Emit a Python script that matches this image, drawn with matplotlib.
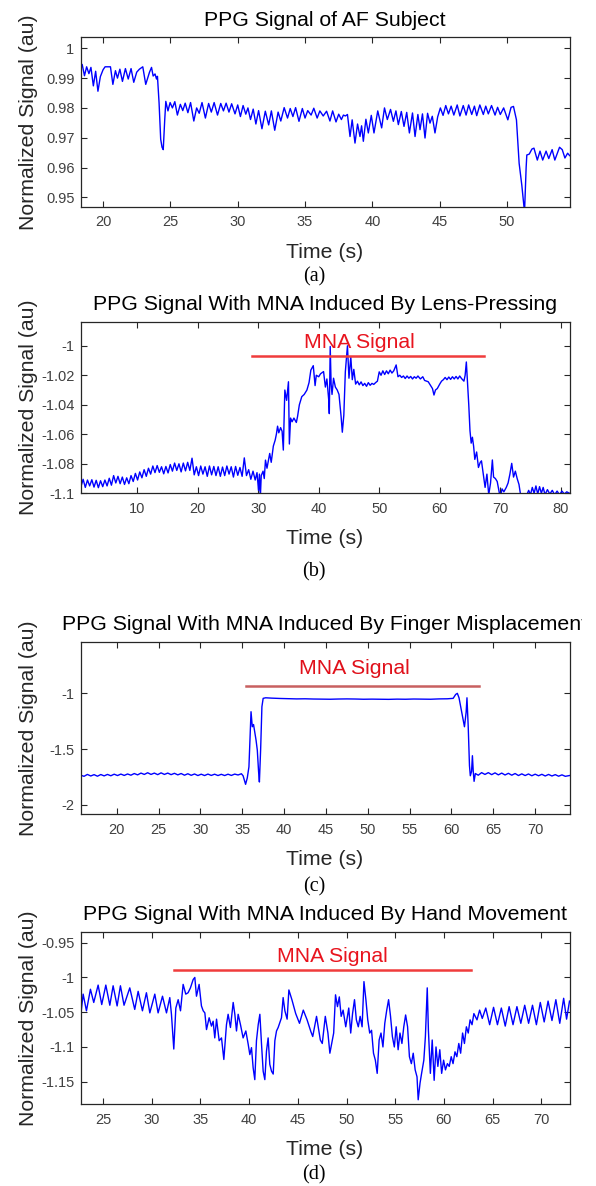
import matplotlib
matplotlib.use('Agg')
import matplotlib.pyplot as plt
from matplotlib.transforms import Bbox

plt.rcParams['font.family'] = ['Liberation Sans', 'DejaVu Sans']

# ---- (a) PPG signal of AF subject ----
a_t = [18.34, 18.45, 18.62, 18.78, 18.95, 19.10, 19.28, 19.45, 19.62, 19.80,
       20.00, 20.15, 20.55, 20.73, 20.92, 21.07, 21.25, 21.44, 21.66, 21.87,
       22.08, 22.28, 22.50, 22.70, 22.95, 23.17, 23.45, 23.60, 23.72, 23.86,
       23.97, 24.04, 24.16, 24.28, 24.38, 24.47, 24.58, 24.66, 24.82, 24.98,
       25.15, 25.33, 25.52, 25.74, 25.92, 26.10, 26.30, 26.50, 26.74, 26.95,
       27.14, 27.35, 27.60, 27.84, 28.04, 28.25, 28.50, 28.74, 28.94, 29.14,
       29.35, 29.55, 29.80, 30.00, 30.20, 30.40, 30.60, 30.76, 30.95, 31.15,
       31.35, 31.55, 31.80, 32.05, 32.30, 32.50, 32.75, 33.00, 33.20, 33.45,
       33.70, 33.90, 34.10, 34.30, 34.55, 34.80, 35.00, 35.20, 35.45, 35.65,
       35.90, 36.10, 36.35, 36.60, 36.85, 37.05, 37.30, 37.50, 37.70, 37.85,
       38.00, 38.15, 38.34, 38.50, 38.71, 38.90, 39.08, 39.20, 39.33, 39.52,
       39.70, 39.92, 40.12, 40.40, 40.69, 40.90, 41.11, 41.35, 41.56, 41.75,
       41.93, 42.15, 42.35, 42.55, 42.75, 42.98, 43.17, 43.38, 43.54, 43.72,
       43.91, 44.10, 44.28, 44.45, 44.65, 44.85, 45.05, 45.25, 45.45, 45.65,
       45.85, 46.05, 46.30, 46.50, 46.75, 46.96, 47.15, 47.38, 47.58, 47.75,
       47.98, 48.24, 48.42, 48.61, 48.85, 49.11, 49.30, 49.50, 49.75, 50.06,
       50.30, 50.48, 50.70, 50.90, 51.10, 51.30, 51.42, 51.47, 51.65, 51.85,
       52.00, 52.25, 52.45, 52.65, 52.90, 53.10, 53.35, 53.55, 53.90, 54.10,
       54.30, 54.50, 54.65]
a_v = [0.9932, 0.9946, 0.9908, 0.9938, 0.9915, 0.9936, 0.9874, 0.9923, 0.9856, 0.9905,
       0.9928, 0.9938, 0.9938, 0.9879, 0.9925, 0.9900, 0.9930, 0.9889, 0.9932, 0.9897,
       0.9932, 0.9886, 0.9920, 0.9930, 0.9938, 0.9879, 0.9920, 0.9936, 0.9907, 0.9914,
       0.9897, 0.9906, 0.9817, 0.9695, 0.9668, 0.9660, 0.9760, 0.9822, 0.9790, 0.9818,
       0.9800, 0.9821, 0.9776, 0.9812, 0.9791, 0.9816, 0.9784, 0.9818, 0.9756, 0.9800,
       0.9782, 0.9818, 0.9766, 0.9815, 0.9786, 0.9818, 0.9776, 0.9815, 0.9790, 0.9816,
       0.9786, 0.9814, 0.9780, 0.9810, 0.9771, 0.9808, 0.9779, 0.9800, 0.9761, 0.9796,
       0.9746, 0.9791, 0.9730, 0.9789, 0.9743, 0.9790, 0.9725, 0.9786, 0.9756, 0.9801,
       0.9766, 0.9798, 0.9771, 0.9801, 0.9755, 0.9798, 0.9766, 0.9791, 0.9776, 0.9799,
       0.9766, 0.9790, 0.9773, 0.9789, 0.9756, 0.9790, 0.9753, 0.9779, 0.9761, 0.9776,
       0.9773, 0.9778, 0.9704, 0.9760, 0.9682, 0.9746, 0.9704, 0.9740, 0.9688, 0.9762,
       0.9716, 0.9775, 0.9716, 0.9790, 0.9733, 0.9800, 0.9761, 0.9795, 0.9755, 0.9790,
       0.9744, 0.9788, 0.9738, 0.9785, 0.9716, 0.9783, 0.9704, 0.9778, 0.9727, 0.9780,
       0.9699, 0.9782, 0.9749, 0.9772, 0.9716, 0.9770, 0.9800, 0.9775, 0.9808, 0.9780,
       0.9806, 0.9776, 0.9810, 0.9773, 0.9808, 0.9776, 0.9810, 0.9778, 0.9806, 0.9774,
       0.9810, 0.9778, 0.9806, 0.9780, 0.9808, 0.9776, 0.9802, 0.9778, 0.9800, 0.9760,
       0.9802, 0.9805, 0.9760, 0.9614, 0.9540, 0.9450, 0.9600, 0.9642, 0.9645, 0.9662,
       0.9665, 0.9625, 0.9655, 0.9625, 0.9655, 0.9630, 0.9660, 0.9625, 0.9668, 0.9660,
       0.9632, 0.9648, 0.9640]

# ---- (b) MNA induced by lens-pressing ----
b_t = [0.70, 1.06, 1.42, 1.78, 2.14, 2.50, 2.86, 3.22, 3.58, 3.94,
       4.30, 4.66, 5.02, 5.38, 5.74, 6.10, 6.46, 6.82, 7.18, 7.54,
       7.90, 8.26, 8.62, 8.98, 9.34, 9.70, 10.06, 10.42, 10.78, 11.14,
       11.50, 11.86, 12.22, 12.58, 12.94, 13.30, 13.66, 14.02, 14.38, 14.74,
       15.10, 15.46, 15.82, 16.18, 16.54, 16.90, 17.26, 17.62, 17.98, 18.34,
       18.70, 19.06, 19.42, 19.78, 20.14, 20.50, 20.86, 21.22, 21.58, 21.94,
       22.30, 22.66, 23.02, 23.38, 23.74, 24.10, 24.46, 24.82, 25.18, 25.54,
       25.90, 26.26, 26.62, 26.98, 27.34, 27.70, 28.06, 28.42, 28.78, 29.14,
       29.50, 29.80, 30.05, 30.20, 30.35, 30.50, 30.80, 31.00, 31.20, 31.45,
       31.90, 32.15, 32.50, 32.80, 33.00, 33.20, 33.40, 33.70, 33.95, 34.15,
       34.40, 34.70, 35.00, 35.15, 35.35, 35.60, 35.90, 36.30, 36.50, 36.80,
       37.20, 37.60, 38.05, 38.40, 38.70, 39.10, 39.40, 39.60, 40.00, 40.30,
       40.80, 41.10, 41.35, 41.65, 41.75, 41.90, 42.05, 42.20, 42.45, 42.75,
       43.06, 43.35, 43.70, 43.90, 44.15, 44.40, 44.75, 45.00, 45.30, 45.55,
       45.80, 46.10, 46.40, 46.70, 47.00, 47.30, 47.60, 47.90, 48.20, 48.50,
       48.80, 49.10, 49.40, 49.70, 50.00, 50.30, 50.60, 50.90, 51.20, 51.50,
       51.80, 52.10, 52.40, 52.80, 53.10, 53.40, 53.70, 54.00, 54.30, 54.60,
       54.90, 55.20, 55.50, 55.80, 56.10, 56.40, 56.80, 57.20, 57.50, 58.10,
       58.50, 58.80, 59.05, 59.30, 59.60, 60.00, 60.30, 60.60, 60.90, 61.20,
       61.50, 61.80, 62.10, 62.40, 62.70, 63.00, 63.30, 63.60, 64.00, 64.20,
       64.40, 64.60, 64.80, 65.00, 65.20, 65.40, 65.60, 65.80, 66.10, 66.40,
       66.70, 66.90, 67.20, 67.50, 67.80, 68.10, 68.40, 68.70, 68.90, 69.20,
       69.50, 70.00, 70.30, 70.60, 71.00, 71.30, 71.60, 71.90, 72.20, 72.50,
       72.80, 73.10, 73.40, 73.70, 74.00, 74.40, 74.70, 75.00, 75.30, 75.60,
       75.90, 76.20, 76.50, 76.80, 77.10, 77.40, 77.80, 78.20, 78.60, 79.00,
       79.40, 79.80, 80.20, 80.60, 81.00, 81.45]
b_v = [-1.0955, -1.0905, -1.0960, -1.0910, -1.0950, -1.0908, -1.0958, -1.0912, -1.0962, -1.0915,
       -1.0955, -1.0910, -1.0950, -1.0898, -1.0945, -1.0880, -1.0930, -1.0885, -1.0935, -1.0890,
       -1.0940, -1.0895, -1.0935, -1.0880, -1.0920, -1.0865, -1.0910, -1.0855, -1.0895, -1.0840,
       -1.0885, -1.0830, -1.0870, -1.0815, -1.0860, -1.0812, -1.0858, -1.0820, -1.0868, -1.0818,
       -1.0862, -1.0805, -1.0850, -1.0795, -1.0845, -1.0800, -1.0855, -1.0795, -1.0848, -1.0790,
       -1.0845, -1.0762, -1.0875, -1.0820, -1.0880, -1.0815, -1.0870, -1.0820, -1.0885, -1.0815,
       -1.0875, -1.0818, -1.0880, -1.0820, -1.0885, -1.0822, -1.0880, -1.0815, -1.0870, -1.0820,
       -1.0890, -1.0818, -1.0878, -1.0825, -1.0885, -1.0760, -1.0880, -1.0840, -1.0905, -1.0850,
       -1.0910, -1.0860, -1.0980, -1.0870, -1.1030, -1.0880, -1.0850, -1.0900, -1.0775, -1.0830,
       -1.0730, -1.0790, -1.0680, -1.0640, -1.0600, -1.0545, -1.0590, -1.0555, -1.0580, -1.0707,
       -1.0300, -1.0370, -1.0244, -1.0666, -1.0490, -1.0515, -1.0490, -1.0520, -1.0480, -1.0400,
       -1.0345, -1.0330, -1.0300, -1.0250, -1.0165, -1.0135, -1.0270, -1.0200, -1.0210, -1.0190,
       -1.0175, -1.0280, -1.0225, -1.0365, -1.0460, -1.0005, -1.0260, -1.0330, -1.0220, -1.0280,
       -1.0300, -1.0330, -1.0480, -1.0586, -1.0470, -1.0176, -1.0000, -1.0220, -1.0075, -1.0230,
       -1.0160, -1.0260, -1.0240, -1.0265, -1.0245, -1.0270, -1.0255, -1.0275, -1.0250, -1.0268,
       -1.0255, -1.0262, -1.0250, -1.0240, -1.0177, -1.0200, -1.0170, -1.0195, -1.0170, -1.0190,
       -1.0165, -1.0185, -1.0170, -1.0130, -1.0210, -1.0200, -1.0215, -1.0205, -1.0222, -1.0205,
       -1.0220, -1.0208, -1.0225, -1.0210, -1.0220, -1.0205, -1.0225, -1.0210, -1.0235, -1.0244,
       -1.0270, -1.0290, -1.0334, -1.0300, -1.0290, -1.0260, -1.0240, -1.0230, -1.0215, -1.0230,
       -1.0212, -1.0228, -1.0210, -1.0225, -1.0208, -1.0225, -1.0205, -1.0222, -1.0240, -1.0200,
       -1.0110, -1.0250, -1.0400, -1.0575, -1.0660, -1.0620, -1.0680, -1.0770, -1.0720, -1.0825,
       -1.0790, -1.0780, -1.0870, -1.0960, -1.0870, -1.1010, -1.0930, -1.0774, -1.0890, -1.0900,
       -1.0920, -1.1030, -1.0970, -1.0990, -1.0960, -1.0930, -1.0870, -1.0797, -1.0890, -1.0850,
       -1.0900, -1.0940, -1.1020, -1.1010, -1.1030, -1.1010, -1.0980, -1.1010, -1.0960, -1.1000,
       -1.0950, -1.1005, -1.0955, -1.1000, -1.0960, -1.1010, -1.0975, -1.1005, -1.0980, -1.1010,
       -1.0985, -1.1010, -1.0985, -1.1005, -1.0990, -1.1000]

# ---- (c) MNA induced by finger misplacement ----
c_t = [15.7, 16.1, 16.5, 16.9, 17.3, 17.7, 18.1, 18.5, 18.9, 19.3,
       19.7, 20.1, 20.5, 20.9, 21.3, 21.7, 22.1, 22.5, 22.9, 23.3,
       23.7, 24.1, 24.5, 24.9, 25.3, 25.7, 26.1, 26.5, 26.9, 27.3,
       27.7, 28.1, 28.5, 28.9, 29.3, 29.7, 30.1, 30.5, 30.9, 31.3,
       31.7, 32.1, 32.5, 32.9, 33.3, 33.7, 34.1, 34.5, 34.9, 35.1,
       35.3, 35.4, 35.6, 35.8, 35.95, 36.05, 36.2, 36.35, 36.5, 36.65,
       36.8, 36.95, 37.05, 37.2, 37.35, 37.5, 37.8, 38.5, 39.5, 40.5,
       41.5, 42.5, 43.5, 44.5, 45.5, 46.5, 47.5, 48.5, 49.5, 50.5,
       51.5, 52.5, 53.5, 54.5, 55.5, 56.5, 57.5, 58.5, 59.5, 60.2,
       60.5, 60.7, 60.9, 61.1, 61.3, 61.55, 61.75, 61.85, 62.0, 62.15,
       62.25, 62.4, 62.5, 62.6, 62.7, 62.85, 63.2, 63.6, 64.0, 64.4,
       64.8, 65.2, 65.6, 66.0, 66.4, 66.8, 67.2, 67.6, 68.0, 68.4,
       68.8, 69.2, 69.6, 70.0, 70.4, 70.8, 71.2, 71.6, 72.0, 72.4,
       72.8, 73.2, 73.6, 74.1]
c_v = [-1.735, -1.745, -1.728, -1.742, -1.730, -1.744, -1.729, -1.741, -1.728, -1.740,
       -1.726, -1.738, -1.725, -1.737, -1.724, -1.735, -1.720, -1.732, -1.716, -1.728,
       -1.713, -1.728, -1.716, -1.730, -1.714, -1.728, -1.716, -1.730, -1.718, -1.732,
       -1.720, -1.735, -1.722, -1.736, -1.724, -1.738, -1.726, -1.738, -1.725, -1.737,
       -1.726, -1.738, -1.727, -1.738, -1.726, -1.737, -1.725, -1.733, -1.722, -1.740,
       -1.790, -1.817, -1.760, -1.660, -1.350, -1.165, -1.300, -1.280, -1.350, -1.420,
       -1.510, -1.700, -1.796, -1.500, -1.120, -1.045, -1.040, -1.043, -1.046, -1.048,
       -1.050, -1.049, -1.051, -1.052, -1.053, -1.051, -1.050, -1.051, -1.053, -1.052,
       -1.053, -1.054, -1.052, -1.053, -1.051, -1.052, -1.053, -1.050, -1.049, -1.045,
       -1.010, -1.000, -1.040, -1.120, -1.200, -1.300, -1.170, -1.040, -1.300, -1.650,
       -1.740, -1.700, -1.560, -1.700, -1.790, -1.720, -1.735, -1.712, -1.728, -1.712,
       -1.730, -1.714, -1.732, -1.716, -1.733, -1.718, -1.735, -1.720, -1.738, -1.723,
       -1.738, -1.724, -1.740, -1.726, -1.740, -1.727, -1.742, -1.728, -1.742, -1.730,
       -1.744, -1.732, -1.745, -1.738]

# ---- (d) MNA induced by hand movement ----
d_t = [22.70, 22.95, 23.29, 23.70, 24.04, 24.49, 24.86, 25.28, 25.69, 26.03,
       26.44, 26.78, 27.15, 27.74, 28.25, 28.60, 29.04, 29.45, 29.80, 30.31,
       30.65, 31.10, 31.51, 31.85, 32.02, 32.26, 32.47, 32.71, 32.95, 33.22,
       33.49, 33.73, 33.97, 34.25, 34.42, 34.59, 34.86, 35.10, 35.28, 35.45,
       35.62, 35.89, 36.13, 36.30, 36.47, 36.65, 36.92, 37.16, 37.40, 37.67,
       37.84, 38.08, 38.36, 38.53, 38.70, 38.87, 39.11, 39.38, 39.66, 39.90,
       40.07, 40.24, 40.41, 40.58, 40.75, 40.93, 41.10, 41.27, 41.44, 41.61,
       41.78, 41.95, 42.12, 42.30, 42.47, 42.64, 42.81, 42.98, 43.15, 43.32,
       43.49, 43.67, 43.90, 44.08, 44.39, 44.78, 45.17, 45.56, 45.95, 46.34,
       46.53, 46.92, 47.31, 47.51, 47.82, 48.09, 48.29, 48.68, 48.87, 49.07,
       49.26, 49.45, 49.65, 49.92, 50.23, 50.43, 50.62, 50.82, 51.01, 51.21,
       51.40, 51.60, 51.79, 51.99, 52.18, 52.38, 52.57, 52.77, 52.96, 53.15,
       53.35, 53.54, 53.74, 53.93, 54.13, 54.32, 54.52, 54.71, 54.91, 55.10,
       55.30, 55.49, 55.69, 55.88, 56.07, 56.27, 56.46, 56.66, 56.85, 57.05,
       57.24, 57.36, 57.55, 57.71, 57.94, 58.10, 58.29, 58.41, 58.61, 58.80,
       59.00, 59.19, 59.38, 59.58, 59.77, 59.97, 60.16, 60.36, 60.55, 60.75,
       60.94, 61.14, 61.33, 61.53, 61.72, 61.92, 62.11, 62.31, 62.50, 62.69,
       62.89, 63.08, 63.40, 63.67, 63.94, 64.30, 64.70, 65.10, 65.50, 65.90,
       66.30, 66.70, 67.10, 67.50, 67.90, 68.30, 68.70, 69.10, 69.50, 69.90,
       70.30, 70.70, 71.10, 71.50, 71.90, 72.30, 72.60, 72.90]
d_v = [-1.055, -1.024, -1.048, -1.017, -1.036, -1.011, -1.039, -1.011, -1.040, -1.012,
       -1.041, -1.012, -1.040, -1.015, -1.046, -1.020, -1.048, -1.022, -1.051, -1.024,
       -1.051, -1.027, -1.051, -1.029, -1.053, -1.103, -1.044, -1.032, -1.048, -1.010,
       -1.024, -1.022, -1.015, -1.003, -1.000, -1.027, -1.010, -1.041, -1.048, -1.051,
       -1.075, -1.058, -1.070, -1.063, -1.087, -1.060, -1.091, -1.087, -1.118, -1.068,
       -1.053, -1.072, -1.036, -1.053, -1.077, -1.053, -1.068, -1.087, -1.077, -1.096,
       -1.111, -1.101, -1.130, -1.147, -1.091, -1.068, -1.053, -1.096, -1.135, -1.147,
       -1.106, -1.087, -1.125, -1.135, -1.139, -1.091, -1.077, -1.072, -1.065, -1.058,
       -1.029, -1.048, -1.060, -1.018, -1.032, -1.052, -1.066, -1.047, -1.061, -1.078,
       -1.085, -1.056, -1.090, -1.095, -1.056, -1.080, -1.109, -1.080, -1.025, -1.042,
       -1.028, -1.056, -1.047, -1.071, -1.044, -1.080, -1.052, -1.032, -1.061, -1.071,
       -1.056, -1.071, -1.006, -1.032, -1.061, -1.080, -1.076, -1.109, -1.119, -1.138,
       -1.090, -1.080, -1.100, -1.066, -1.047, -1.032, -1.056, -1.085, -1.100, -1.071,
       -1.104, -1.080, -1.095, -1.071, -1.054, -1.071, -1.114, -1.124, -1.109, -1.133,
       -1.143, -1.176, -1.152, -1.138, -1.119, -1.085, -1.015, -1.076, -1.138, -1.090,
       -1.148, -1.100, -1.128, -1.104, -1.138, -1.119, -1.133, -1.124, -1.128, -1.114,
       -1.124, -1.107, -1.114, -1.095, -1.109, -1.080, -1.095, -1.071, -1.080, -1.061,
       -1.068, -1.052, -1.061, -1.047, -1.059, -1.044, -1.068, -1.043, -1.068, -1.044,
       -1.070, -1.042, -1.068, -1.042, -1.066, -1.040, -1.066, -1.040, -1.068, -1.036,
       -1.064, -1.034, -1.062, -1.032, -1.066, -1.030, -1.060, -1.034]

titles = ['PPG Signal of AF Subject',
          'PPG Signal With MNA Induced By Lens-Pressing',
          'PPG Signal With MNA Induced By Finger Misplacement',
          'PPG Signal With MNA Induced By Hand Movement']
sub_labels = ['(a)', '(b)', '(c)', '(d)']

a_xticks = [20, 25, 30, 35, 40, 45, 50]
a_yticks = [0.95, 0.96, 0.97, 0.98, 0.99, 1.0]
a_ylabels = ['0.95', '0.96', '0.97', '0.98', '0.99', '1']
b_xticks = [10, 20, 30, 40, 50, 60, 70, 80]
b_yticks = [-1.1, -1.08, -1.06, -1.04, -1.02, -1.0]
b_ylabels = ['-1.1', '-1.08', '-1.06', '-1.04', '-1.02', '-1']
c_xticks = [20, 25, 30, 35, 40, 45, 50, 55, 60, 65, 70]
c_yticks = [-2.0, -1.5, -1.0]
c_ylabels = ['-2', '-1.5', '-1']
d_xticks = [25, 30, 35, 40, 45, 50, 55, 60, 65, 70]
d_yticks = [-1.15, -1.1, -1.05, -1.0, -0.95]
d_ylabels = ['-1.15', '-1.1', '-1.05', '-1', '-0.95']

W, H = 596, 1186
FS = 15.3
GREY = '#404040'

fig = plt.figure(figsize=(W / 100, H / 100), dpi=100)


def make_panel(box_px, t, v, xlim, ylim, xticks, yticks, ylabels):
    top, bottom = box_px
    left, right = 80.7, 569.5
    ax = fig.add_axes([left / W, 1 - bottom / H, (right - left) / W, (bottom - top) / H])
    ax.plot(t, v, color='#0000ff', lw=1.0)
    ax.set_xlim(*xlim)
    ax.set_ylim(*ylim)
    ax.set_xticks(xticks)
    ax.set_xticklabels([str(x) for x in xticks])
    ax.set_yticks(yticks)
    ax.set_yticklabels(ylabels)
    ax.tick_params(direction='in', top=True, right=True, length=4, width=0.8,
                   labelsize=10.5, labelcolor=GREY, color='#262626')
    ax.tick_params(axis='x', pad=6)
    ax.tick_params(axis='y', pad=4.5)
    for s in ax.spines.values():
        s.set_color('#262626')
        s.set_linewidth(0.9)
    ax.set_xlabel('Time (s)', fontsize=FS, color='#262626')
    ax.set_ylabel('Normalized Signal (au)', fontsize=FS, color='#262626')
    h = bottom - top
    ax.xaxis.set_label_coords(0.5, -36 / h)
    ax.yaxis.set_label_coords((38.5 - left) / (right - left), 0.5)
    return ax


ax_a = make_panel((37, 207), a_t, a_v, (18.34, 54.64), (0.94675, 1.0038),
                  a_xticks, a_yticks, a_ylabels)
ax_b = make_panel((321.7, 493.3), b_t, b_v, (0.66, 81.45), (-1.1, -0.9837),
                  b_xticks, b_yticks, b_ylabels)
ax_c = make_panel((641.7, 814.3), c_t, c_v, (15.7, 74.1), (-2.086, -0.5364),
                  c_xticks, c_yticks, c_ylabels)
ax_d = make_panel((931.7, 1104.3), d_t, d_v, (22.7, 72.9), (-1.1825, -0.9342),
                  d_xticks, d_yticks, d_ylabels)

# MNA markers
ax_b.plot([28.97, 67.36], [-1.007, -1.007], color='#f03c3c', lw=1.8)
ax_b.text(46.8, -0.9975, 'MNA Signal', color='#e8141e', fontsize=FS, ha='center', va='center')
ax_c.plot([35.45, 63.27], [-0.937, -0.937], color='#c86060', lw=1.8)
ax_c.text(48.36, -0.775, 'MNA Signal', color='#e0101a', fontsize=FS, ha='center', va='center')
ax_d.plot([32.32, 62.81], [-0.9898, -0.9898], color='#f03c3c', lw=1.8)
ax_d.text(48.56, -0.970, 'MNA Signal', color='#e8141e', fontsize=FS, ha='center', va='center')

# titles and sub-figure labels
title_y = [20, 305, 624, 914]
label_y = [276.7, 571.7, 886.7, 1175]
# the original figure cut the long title (c) at its right edge
clip = Bbox.from_extents(0, 0, 582, H)
for title, ty, lab, ly in zip(titles, title_y, sub_labels, label_y):
    txt = fig.text(325 / W, 1 - ty / H, title, fontsize=FS, ha='center', va='center', color='black')
    txt.set_clip_box(clip)
    txt.set_clip_on(True)
    fig.text(314 / W, 1 - ly / H, lab, fontsize=14.5, ha='center', va='center',
             family=['Liberation Serif', 'DejaVu Serif'])

fig.savefig('out.png', dpi=100)
